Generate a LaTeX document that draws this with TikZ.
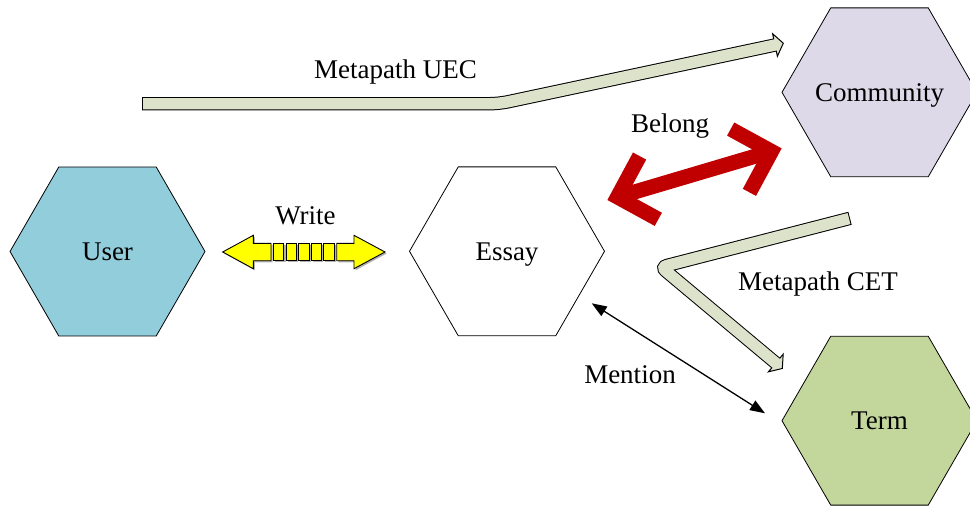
\documentclass[tikz,border=0pt]{standalone}
\usepackage{fontspec}
\setmainfont{Liberation Serif}
\usetikzlibrary{shapes.geometric,arrows.meta,shadows}
\definecolor{userblue}{RGB}{146,205,220}
\definecolor{commlilac}{RGB}{221,217,232}
\definecolor{termgreen}{RGB}{195,214,155}
\definecolor{bandgreen}{RGB}{221,226,203}
\definecolor{belongred}{RGB}{192,0,0}
\definecolor{writeyellow}{RGB}{255,255,0}
\newcommand\dgfont{\fontsize{27}{32}\selectfont}
% zero-width box so the hexagon size does not depend on its text
\newcommand\hextext[1]{\makebox[0pt]{#1}}

\begin{document}
\begin{tikzpicture}[x=1pt,y=1pt,
  hexnode/.style={regular polygon, regular polygon sides=6, minimum size=195pt,
    inner sep=0pt, outer sep=0pt, draw=black, line width=0.8pt,
    text height=18pt, text depth=0pt, font=\dgfont},
  lbl/.style={anchor=base, inner sep=0pt, font=\dgfont},
  bandedge/.style={draw=black, line width=13.4pt, rounded corners=#1},
  bandedge/.default=9pt,
  bandbody/.style={draw=bandgreen, line width=11.4pt, rounded corners=#1,
    shorten <=1pt, shorten >=-1.6pt},
  bandbody/.default=9pt,
  bandhead/.style={fill=bandgreen, draw=black, line width=1pt, line join=miter},
  writepiece/.style={fill=writeyellow, draw=black, line width=0.9pt, line join=miter,
    general shadow={fill=black!30, shadow xshift=1.6pt, shadow yshift=-1.6pt}},
  belong/.style={draw=belongred, line width=15pt, line join=miter, line cap=butt},
  mention/.style={draw=black, line width=1.3pt,
    {Triangle[length=15pt,width=11pt]}-{Triangle[length=15pt,width=11pt]}}
]
\useasboundingbox (0,0) rectangle (970,-506);
\clip (0,0) rectangle (970,-506);

% entity hexagons
\node[hexnode, fill=userblue]  (user)      at (107.5,-251.5) {\hextext{User}};
\node[hexnode, fill=white]     (essay)     at (507,-251.3)   {\hextext{Essay}};
\node[hexnode, fill=commlilac] (community) at (879.5,-92.3)  {\hextext{Community}};
\node[hexnode, fill=termgreen] (term)      at (879.5,-420.7) {\hextext{Term}};

% Write: yellow double block arrow with a segmented middle
\path[writepiece] (222.7,-252) -- (253.3,-235.3) -- (253.3,-243.3) -- (271,-243.3)
  -- (271,-260.7) -- (253.3,-260.7) -- (253.3,-268.7) -- cycle;
\path[writepiece] (385,-252) -- (354,-235.3) -- (354,-243.3) -- (336.7,-243.3)
  -- (336.7,-260.7) -- (354,-260.7) -- (354,-268.7) -- cycle;
\foreach \i in {0,...,4}
  \path[writepiece] (273.4+12.6*\i,-243.3) rectangle ++(10.5,-17.4);

% Belong: thick red double arrow with open heads
\begin{scope}[shift={(694.5,-174.2)}, rotate=16.5]
  \draw[belong] (-80.3,0) -- (80.3,0);
  \draw[belong] (-47.5,33) -- (-80.3,0) -- (-47.5,-33);
  \draw[belong] (47.5,33) -- (80.3,0) -- (47.5,-33);
\end{scope}

% Metapath UEC band
\draw[bandedge] (142,-103.7) -- (499,-103.7) -- (775,-45);
\draw[bandhead, shift={(775,-45)}, rotate=12] (0,11.5) -- (8.5,0) -- (0,-11.5) -- cycle;
\draw[bandbody] (142,-103.7) -- (499,-103.7) -- (775,-45);

% Metapath CET band
\draw[bandedge=6pt] (850,-218.3) -- (661,-267) -- (775.8,-363);
\draw[bandhead, shift={(775.8,-363)}, rotate=-40] (0,11.5) -- (8.5,0) -- (0,-11.5) -- cycle;
\draw[bandbody=6pt] (850,-218.3) -- (661,-267) -- (775.8,-363);

% Mention
\coordinate (m1) at (591.7,-303.3);
\coordinate (m2) at (765,-413.3);
\draw[mention] (m1) -- (m2);

% labels
\node[lbl] (lUEC)     at (395.5,-78.5) {Metapath UEC};
\node[lbl] (lWrite)   at (305.5,-224)  {Write};
\node[lbl] (lBelong)  at (670,-132.5)  {Belong};
\node[lbl] (lCET)     at (818,-290.5)  {Metapath CET};
\node[lbl] (lMention) at (630,-383.5)  {Mention};
\end{tikzpicture}
\end{document}
